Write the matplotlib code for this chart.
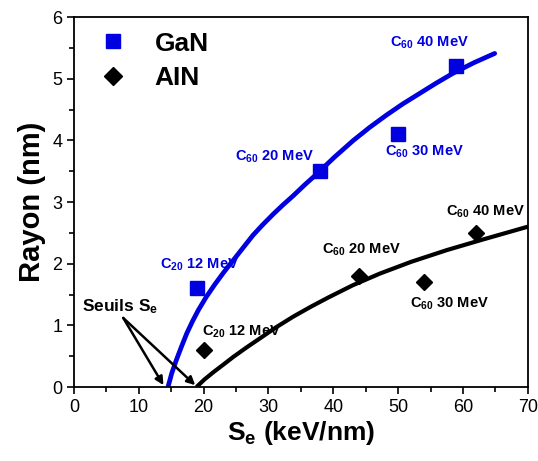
import numpy as np
import matplotlib.pyplot as plt

plt.rcParams['font.family'] = ['Liberation Sans', 'DejaVu Sans']
plt.rcParams['mathtext.fontset'] = 'custom'
plt.rcParams['mathtext.rm'] = 'Liberation Sans'
plt.rcParams['mathtext.bf'] = 'Liberation Sans:bold'

BLUE = '#0000e0'

# measured points
gan_se = [19, 38, 50, 59]
gan_r = [1.6, 3.5, 4.1, 5.2]
aln_se = [20, 44, 54, 62]
aln_r = [0.6, 1.8, 1.7, 2.5]

# fit curves
gan_fit_se = [14.5, 15.1, 15.8, 16.6, 17.4, 18.3, 19.2, 20.4, 21.7, 23.1, 24.6, 26.1, 27.6,
              29.1, 30.7, 32.2, 33.8, 35.6, 37.4, 40.2, 43.1, 45.6, 48.2, 50.7, 53.3, 55.9,
              58.5, 61.7, 64.9]
gan_fit_r = [0.0, 0.23, 0.44, 0.66, 0.87, 1.07, 1.25, 1.46, 1.66, 1.86, 2.06, 2.26, 2.46,
             2.63, 2.80, 2.95, 3.10, 3.28, 3.45, 3.73, 4.00, 4.21, 4.41, 4.59, 4.76, 4.93,
             5.09, 5.26, 5.41]
aln_fit_se = [18.9, 20.1, 21.5, 23.0, 24.6, 26.6, 28.7, 31.2, 33.8, 36.5, 39.2, 43.0, 47.2,
              52.0, 57.5, 63.0, 70.0]
aln_fit_r = [0.0, 0.12, 0.24, 0.36, 0.49, 0.64, 0.79, 0.97, 1.14, 1.30, 1.45, 1.65, 1.84,
             2.03, 2.22, 2.39, 2.60]

# annotations
gan_labels = [r"$\mathbf{C_{20}}$ 12 MeV", r"$\mathbf{C_{60}}$ 20 MeV",
              r"$\mathbf{C_{60}}$ 30 MeV", r"$\mathbf{C_{60}}$ 40 MeV"]
gan_label_x = [13.2, 24.8, 47.9, 48.7]
gan_label_y = [1.98, 3.73, 3.82, 5.58]
aln_labels = [r"$\mathbf{C_{20}}$ 12 MeV", r"$\mathbf{C_{60}}$ 20 MeV",
              r"$\mathbf{C_{60}}$ 30 MeV", r"$\mathbf{C_{60}}$ 40 MeV"]
aln_label_x = [19.8, 38.3, 51.9, 57.4]
aln_label_y = [0.90, 2.23, 1.35, 2.84]

fig = plt.figure(figsize=(5.38, 4.61), dpi=100)
ax = fig.add_axes([0.1375, 0.1605, 0.8435, 0.8025])

ax.plot(gan_fit_se, gan_fit_r, color=BLUE, lw=3.4, solid_capstyle='round', solid_joinstyle='round')
ax.plot(aln_fit_se, aln_fit_r, color='black', lw=3.0, solid_capstyle='butt', solid_joinstyle='round')
ax.plot(gan_se, gan_r, 's', color=BLUE, ms=9.5, label='GaN', ls='none')
ax.plot(aln_se, aln_r, 'D', color='black', ms=8, label='AIN', ls='none')

for t, x, y in zip(gan_labels, gan_label_x, gan_label_y):
    ax.text(x, y, t, color=BLUE, fontsize=10.5, fontweight='bold', va='center')
for t, x, y in zip(aln_labels, aln_label_x, aln_label_y):
    ax.text(x, y, t, color='black', fontsize=10.5, fontweight='bold', va='center')

ax.text(1.2, 1.30, r"Seuils $\mathbf{S_e}$", fontsize=12.5, fontweight='bold', va='center')
for tip in [13.8, 18.7]:
    ax.annotate('', xy=(tip, 0.03), xytext=(7.6, 1.12),
                arrowprops=dict(arrowstyle='-|>', color='black', lw=1.8,
                                mutation_scale=12, shrinkA=0, shrinkB=0))

ax.set_xlim(0, 70)
ax.set_ylim(0, 6)
ax.set_xticks(np.arange(0, 71, 10))
ax.set_xticks(np.arange(5, 70, 10), minor=True)
ax.set_yticks(np.arange(0, 7, 1))
ax.set_yticks(np.arange(0.5, 6, 1), minor=True)
ax.tick_params(which='both', direction='out', top=False, right=False, width=1.2, labelsize=13)
ax.tick_params(which='major', length=5)
ax.tick_params(which='minor', length=3.5)
for s in ax.spines.values():
    s.set_linewidth(1.3)

ax.set_xlabel(r"$\mathbf{S_e}$ (keV/nm)", fontsize=19, fontweight='bold', labelpad=2)
ax.set_ylabel("Rayon (nm)", fontsize=21, fontweight='bold', labelpad=4)

ax.legend(loc='upper left', frameon=False, prop=dict(weight='bold', size=19),
          handletextpad=0.6, labelspacing=0.4, borderaxespad=0.15, markerscale=1.1,
          bbox_to_anchor=(-0.005, 1.0))

fig.savefig('out.png', dpi=100)
